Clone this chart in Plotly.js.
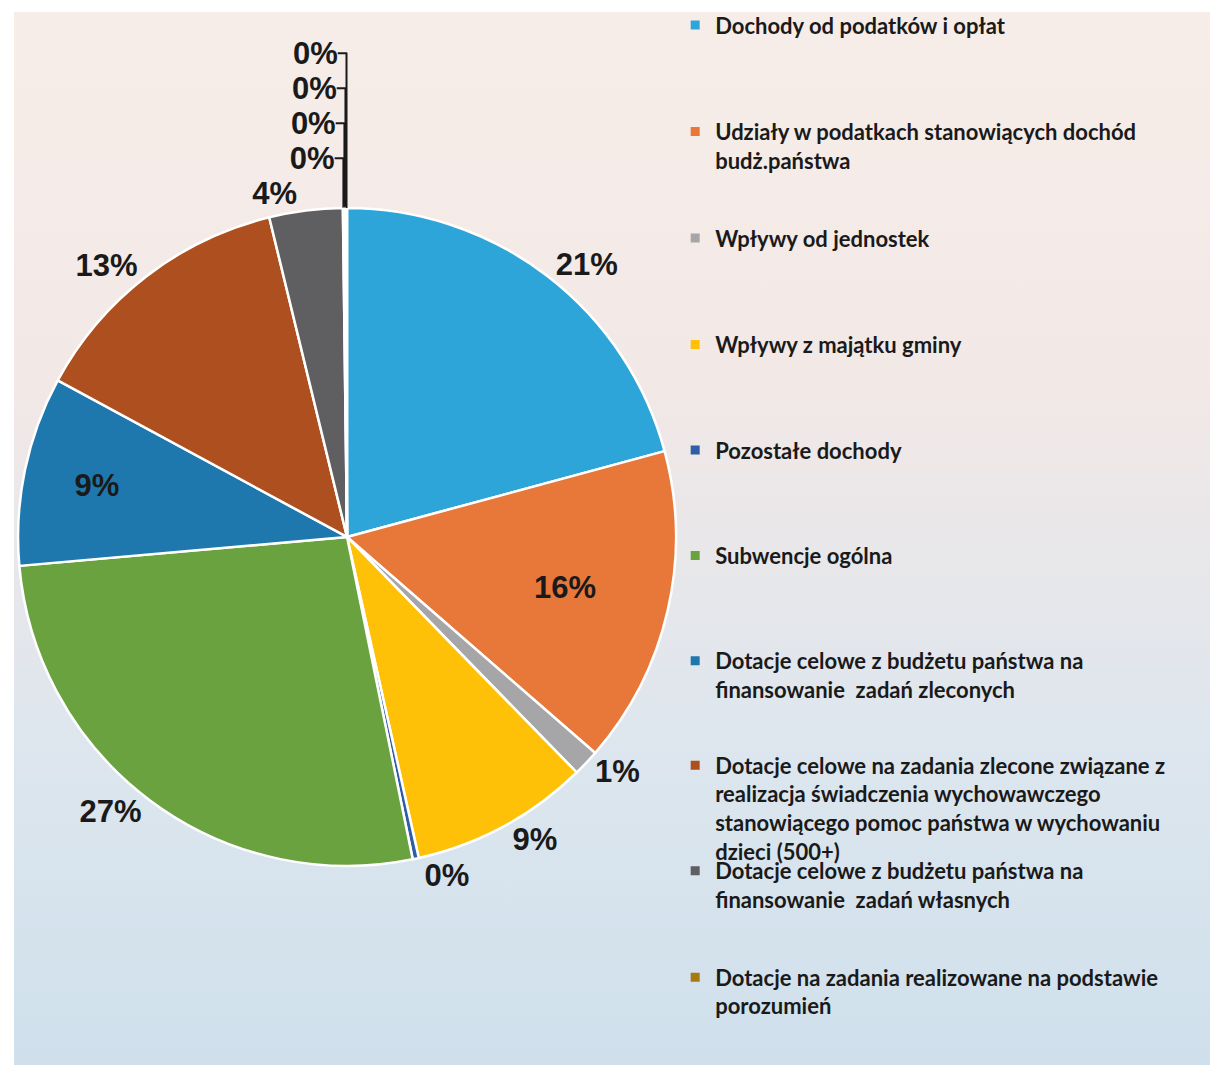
<!DOCTYPE html>
<html>
<head>
<meta charset="utf-8">
<script src="https://cdn.plot.ly/plotly-3.0.1.min.js"></script>
<style>
  html, body { margin: 0; padding: 0; background: #ffffff; }
  #bg { position: absolute; left: 14px; top: 12px; width: 1196px; height: 1053px;
        background: linear-gradient(to bottom, #f7ede8 0%, #f2e8e6 35%, #dde6ee 70%, #cfe0ec 100%); }
  #chart { position: absolute; left: 0; top: 0; width: 1210px; height: 1065px; }
</style>
</head>
<body>
<div id="bg"></div>
<div id="chart"></div>
<script>
// Categories (legend shows the first ten; the last three zero-share slices are unnamed in the source legend)
const categories = [
  "Dochody od podatków i opłat",
  "Udziały w podatkach stanowiących dochód budż.państwa",
  "Wpływy od jednostek",
  "Wpływy z majątku gminy",
  "Pozostałe dochody",
  "Subwencje ogólna",
  "Dotacje celowe z budżetu państwa na finansowanie  zadań zleconych",
  "Dotacje celowe na zadania zlecone związane z realizacja świadczenia wychowawczego stanowiącego pomoc państwa w wychowaniu dzieci (500+)",
  "Dotacje celowe z budżetu państwa na finansowanie  zadań własnych",
  "Dotacje na zadania realizowane na podstawie porozumień",
  "(11)",
  "(12)",
  "(13)"
];
// Shares in percent
const shares = [20.8, 15.6, 1.3, 8.8, 0.3, 26.8, 9.3, 13.3, 3.6, 0.05, 0.05, 0.05, 0.05];
const sliceColors = ["#2ea5d8", "#e8773a", "#a6a6a8", "#ffc107", "#2f5ea8", "#6aa23f",
                     "#1f78ad", "#ad4f1e", "#5f5f62", "#a67a10", "#6d8fc9", "#b5b5b5", "#8a6d2e"];
// Where each share label sits (as in the source: two labels drawn inside their slices)
const labelPlacement = ["outside", "inside", "outside", "outside", "outside", "outside",
                        "inside", "outside", "outside", "outside", "outside", "outside", "outside"];
// Legend labels as wrapped in the source
const legendLabels = [
  "Dochody od podatków i opłat",
  "Udziały w podatkach stanowiących dochód<br>budż.państwa",
  "Wpływy od jednostek",
  "Wpływy z majątku gminy",
  "Pozostałe dochody",
  "Subwencje ogólna",
  "Dotacje celowe z budżetu państwa na<br>finansowanie  zadań zleconych",
  "Dotacje celowe na zadania zlecone związane z<br>realizacja świadczenia wychowawczego<br>stanowiącego pomoc państwa w wychowaniu<br>dzieci (500+)",
  "Dotacje celowe z budżetu państwa na<br>finansowanie  zadań własnych",
  "Dotacje na zadania realizowane na podstawie<br>porozumień"
];
const legendTops = [0.996, 0.896, 0.796, 0.696, 0.597, 0.498, 0.399, 0.301, 0.202, 0.102];

const labelFont = { family: "Liberation Sans, Arial, sans-serif", size: 31, color: "#1a1a1a", weight: "bold" };

const traces = [{
  type: "pie",
  labels: categories,
  values: shares,
  sort: false,
  direction: "clockwise",
  rotation: 0,
  marker: { colors: sliceColors, line: { color: "#ffffff", width: 2.5 } },
  texttemplate: "%{percent:.0%}",
  textposition: labelPlacement,
  insidetextorientation: "horizontal",
  outsidetextfont: labelFont,
  insidetextfont: labelFont,
  domain: { x: [0.0149, 0.5587], y: [0.1869, 0.8047] },
  showlegend: false,
  hoverinfo: "label+percent"
}];

const layout = {
  width: 1210, height: 1065,
  margin: { l: 0, r: 0, t: 0, b: 0 },
  paper_bgcolor: "rgba(0,0,0,0)",
  plot_bgcolor: "rgba(0,0,0,0)",
  xaxis: { visible: false, domain: [0.99, 1] },
  yaxis: { visible: false, domain: [0.99, 1] },
  showlegend: true
};

legendLabels.forEach((lab, i) => {
  const key = i === 0 ? "legend" : "legend" + (i + 1);
  traces.push({
    type: "scatter", x: [null], y: [null], mode: "markers",
    name: lab,
    marker: { symbol: "square", size: 9, color: sliceColors[i] },
    legend: key, hoverinfo: "skip"
  });
  layout[key] = {
    x: 0.558, xanchor: "left", y: legendTops[i], yanchor: "top",
    bgcolor: "rgba(0,0,0,0)", borderwidth: 0,
    font: { family: "Lato, 'Open Sans', sans-serif", size: 22, color: "#1a1a1a", weight: "bold" },
    itemwidth: 30, valign: "top"
  };
});

Plotly.newPlot("chart", traces, layout, { displayModeBar: false, staticPlot: true });
</script>
</body>
</html>
